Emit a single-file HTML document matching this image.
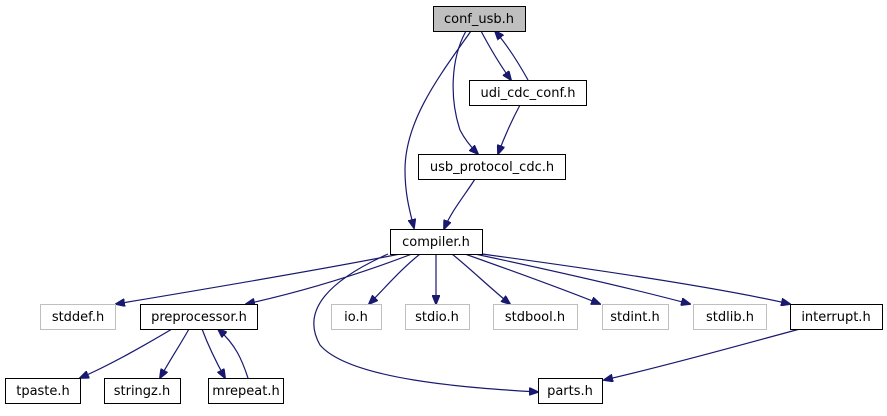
<!DOCTYPE html>
<html><head><meta charset="utf-8"><style>
html,body{margin:0;padding:0;background:#fff;}
svg text{font-family:"DejaVu Sans","Liberation Sans",sans-serif;font-size:13px;text-anchor:middle;}
</style></head><body>
<svg width="887" height="411" viewBox="0 0 887 411" xmlns="http://www.w3.org/2000/svg">
<defs>
<marker id="a" markerWidth="10" markerHeight="8" refX="9" refY="4" orient="auto" markerUnits="userSpaceOnUse">
<path d="M0,0 L10,4 L0,8 z" fill="#191970" stroke="#191970"/></marker>
</defs>
<g fill="none" stroke="#191970" stroke-width="1.2" marker-end="url(#a)">
<path d="M471,31 C440,75 405,120 405,170 C405,195 410,212 414,228"/>
<path d="M466,31 C450,60 450,100 460,130 C465,140 472,148 478,154"/>
<path d="M481,31 C490,48 500,65 511,80"/>
<path d="M528,80 C518,62 508,46 495,31"/>
<path d="M520,105 C512,120 505,135 498,154"/>
<path d="M475,179 C465,195 452,210 444,229"/>
<path d="M400,254 C320,270 200,290 116,304"/>
<path d="M412,254 C370,270 310,290 246,304"/>
<path d="M420,254 C400,270 385,288 369,304"/>
<path d="M436,254 L436,304"/>
<path d="M452,254 C472,270 490,288 510,304"/>
<path d="M465,254 C510,270 560,288 600,304"/>
<path d="M475,254 C550,270 630,288 690,304"/>
<path d="M482,254 C600,270 720,288 790,304"/>
<path d="M388,254 C330,280 300,310 320,345 C350,380 470,388 538,392"/>
<path d="M172,329 C140,348 110,365 80,378"/>
<path d="M189,329 C180,345 170,360 160,378"/>
<path d="M202,329 C208,345 215,360 225,378"/>
<path d="M248,378 C242,360 236,345 218,329"/>
<path d="M800,329 C740,345 670,365 604,380"/>
</g>
<g stroke-width="1">
<rect x="433.5" y="6.5" width="92" height="25" fill="#bfbfbf" stroke="#000"/>
<rect x="469.5" y="80.5" width="117" height="25" fill="#fff" stroke="#000"/>
<rect x="418.5" y="154.5" width="147" height="25" fill="#fff" stroke="#000"/>
<rect x="390.5" y="229.5" width="92" height="25" fill="#fff" stroke="#000"/>
<rect x="40.5" y="304.5" width="75" height="25" fill="#fff" stroke="#bfbfbf"/>
<rect x="140.5" y="304.5" width="117" height="25" fill="#fff" stroke="#000"/>
<rect x="331.5" y="304.5" width="50" height="25" fill="#fff" stroke="#bfbfbf"/>
<rect x="405.5" y="304.5" width="64" height="25" fill="#fff" stroke="#bfbfbf"/>
<rect x="493.5" y="304.5" width="84" height="25" fill="#fff" stroke="#bfbfbf"/>
<rect x="602.5" y="304.5" width="66" height="25" fill="#fff" stroke="#bfbfbf"/>
<rect x="693.5" y="304.5" width="73" height="25" fill="#fff" stroke="#bfbfbf"/>
<rect x="790.5" y="304.5" width="92" height="25" fill="#fff" stroke="#000"/>
<rect x="5.5" y="378.5" width="75" height="25" fill="#fff" stroke="#000"/>
<rect x="104.5" y="378.5" width="76" height="25" fill="#fff" stroke="#000"/>
<rect x="208.5" y="378.5" width="75" height="25" fill="#fff" stroke="#000"/>
<rect x="538.5" y="378.5" width="64" height="25" fill="#fff" stroke="#000"/>
</g>
<g fill="#000">
<text x="479" y="23">conf_usb.h</text>
<text x="528" y="97">udi_cdc_conf.h</text>
<text x="492" y="171">usb_protocol_cdc.h</text>
<text x="436" y="246">compiler.h</text>
<text x="78" y="321">stddef.h</text>
<text x="199" y="321">preprocessor.h</text>
<text x="356" y="321">io.h</text>
<text x="437" y="321">stdio.h</text>
<text x="535" y="321">stdbool.h</text>
<text x="635" y="321">stdint.h</text>
<text x="730" y="321">stdlib.h</text>
<text x="836" y="321">interrupt.h</text>
<text x="43" y="395">tpaste.h</text>
<text x="142" y="395">stringz.h</text>
<text x="246" y="395">mrepeat.h</text>
<text x="570" y="395">parts.h</text>
</g>
</svg>
</body></html>
